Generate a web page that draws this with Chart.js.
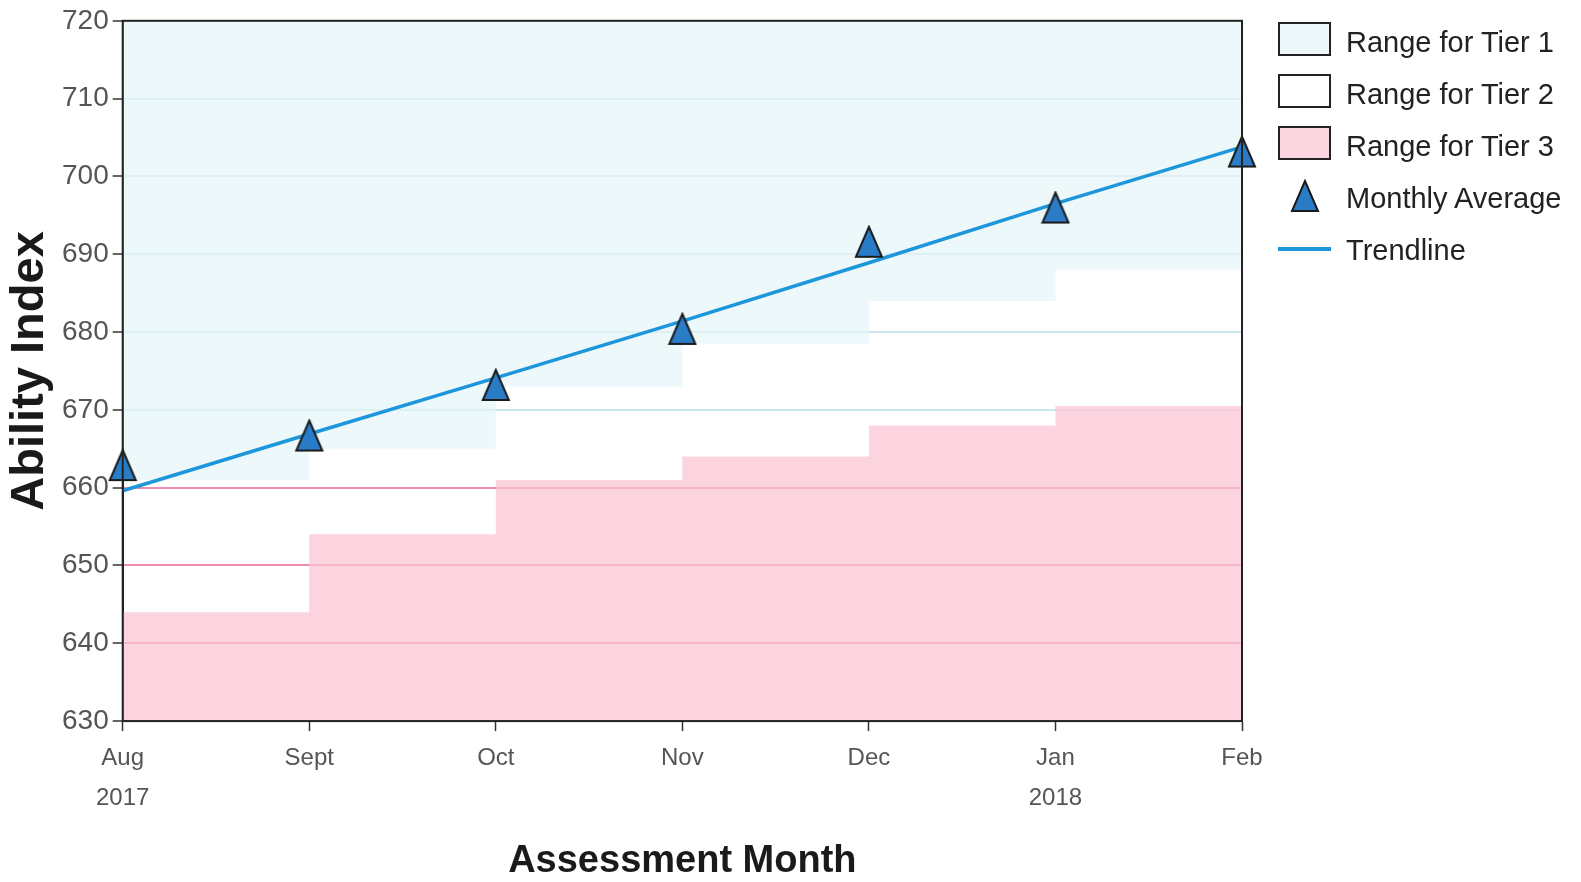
<!DOCTYPE html>
<html>
<head>
<meta charset="utf-8">
<script src="https://cdn.jsdelivr.net/npm/chart.js@4.4.1/dist/chart.umd.min.js"></script>
<style>
  html, body { margin: 0; padding: 0; background: #fff; }
  #wrap { position: relative; width: 1581px; height: 882px; }
  #legend { position: absolute; left: 1278px; top: 20px; font-family: "Liberation Sans", Arial, sans-serif; font-size: 29px; color: #222; }
  .item { position: absolute; left: 0; height: 36px; width: 300px; white-space: nowrap; }
  .item .sw { position: absolute; left: 0; top: 0; width: 53px; height: 34px; border: 2px solid #222; box-sizing: border-box; }
  .item .lbl { position: absolute; left: 68px; top: 0px; line-height: 40px; }
</style>
</head>
<body>
<div id="wrap">
  <canvas id="chart" width="1581" height="882"></canvas>
  <div id="legend">
    <div class="item" style="top:2px"><div class="sw" style="background:#ecf8fa"></div><span class="lbl">Range for Tier 1</span></div>
    <div class="item" style="top:54px"><div class="sw" style="background:#fff"></div><span class="lbl">Range for Tier 2</span></div>
    <div class="item" style="top:106px"><div class="sw" style="background:#fbd6e0"></div><span class="lbl">Range for Tier 3</span></div>
    <div class="item" style="top:158px"><canvas id="legTri" width="30" height="34" style="position:absolute;left:12px;top:1px"></canvas><span class="lbl">Monthly Average</span></div>
    <div class="item" style="top:210px"><div style="position:absolute;left:0;top:17px;width:53px;height:4px;background:#1e96dc"></div><span class="lbl">Trendline</span></div>
  </div>
</div>
<script>
// valeurs
const months = [["Aug", "2017"], "Sept", "Oct", "Nov", "Dec", ["Jan", "2018"], "Feb"];
const monthlyAverage = [662.9, 666.7, 673.2, 680.4, 691.6, 696.0, 703.2];
const trendline = [659.6, 666.9, 674.1, 681.4, 688.9, 696.5, 703.8];
const tier1Lower = [661, 665, 673, 678.5, 684, 688, 688];
const tier3Upper = [644, 654, 661, 664, 668, 670.5, 670.5];

const sans = '"Liberation Sans", Arial, sans-serif';

// triangle un peu plus haut que large, comme l'original
function makeTriangle(c) {
    const g = c.getContext("2d");
    g.beginPath();
    g.moveTo(15, 2);
    g.lineTo(28, 32);
    g.lineTo(2, 32);
    g.closePath();
    g.fillStyle = "#2a7cc7";
    g.fill();
    g.lineWidth = 2;
    g.strokeStyle = "#1a1a1a";
    g.stroke();
    return c;
}
const tri = document.createElement("canvas");
tri.width = 30; tri.height = 34;
makeTriangle(tri);
makeTriangle(document.getElementById("legTri"));

const frame = {
    id: "frame",
    afterDatasetsDraw(chart) {
        const a = chart.chartArea;
        const ctx = chart.ctx;
        ctx.save();
        ctx.strokeStyle = "#222";
        ctx.lineWidth = 2;
        ctx.strokeRect(a.left, a.top, a.right - a.left, a.bottom - a.top);
        ctx.restore();
    }
};

function gridColor(ctx) {
    const v = ctx.tick.value;
    if (v <= 630 || v >= 720) return "rgba(0,0,0,0)";
    if (v <= 660) return "#ec8fab";
    return "#cbe7ec";
}

new Chart(document.getElementById("chart"), {
    type: "line",
    data: {
        labels: months,
        datasets: [
            {
                label: "Monthly Average",
                data: monthlyAverage,
                showLine: false,
                pointStyle: tri,
                pointRadius: 15,
            },
            {
                label: "Trendline",
                data: trendline,
                borderColor: "#1e96dc",
                borderWidth: 3.5,
                pointRadius: 0,
                fill: false,
            },
            {
                label: "Range for Tier 1",
                data: tier1Lower,
                stepped: true,
                borderWidth: 0,
                borderColor: "rgba(0,0,0,0)",
                backgroundColor: "rgba(228,245,248,0.7)",
                pointRadius: 0,
                fill: "end",
            },
            {
                label: "Range for Tier 3",
                data: tier3Upper,
                stepped: true,
                borderWidth: 0,
                borderColor: "rgba(0,0,0,0)",
                backgroundColor: "rgba(249,196,211,0.72)",
                pointRadius: 0,
                fill: "start",
            },
        ],
    },
    options: {
        responsive: false,
        animation: false,
        layout: { padding: { left: 0, right: 339, top: 20, bottom: -13 } },
        plugins: { legend: { display: false }, tooltip: { enabled: false } },
        scales: {
            x: {
                offset: false,
                grid: { drawOnChartArea: false, drawTicks: true, tickLength: 10, tickColor: "#333", tickWidth: 1.5 },
                border: { color: "#222", width: 2 },
                ticks: {
                    color: "#555",
                    padding: 7,
                    maxRotation: 0,
                    autoSkip: false,
                    font: { family: sans, size: 24, lineHeight: 1.667 },
                },
                title: {
                    display: true,
                    text: "Assessment Month",
                    color: "#1a1a1a",
                    padding: { top: 16, bottom: 14 },
                    font: { family: sans, size: 38, weight: "bold", lineHeight: 1.05 },
                },
            },
            y: {
                min: 630,
                max: 720,
                ticks: {
                    stepSize: 10,
                    color: "#555",
                    padding: 4,
                    font: { family: sans, size: 28 },
                },
                grid: { color: gridColor, lineWidth: 2, drawTicks: true, tickLength: 10, tickColor: "#333", tickWidth: 1.5 },
                border: { color: "#222", width: 2 },
                title: {
                    display: true,
                    text: "Ability Index",
                    color: "#1a1a1a",
                    padding: { top: 7, bottom: 4 },
                    font: { family: sans, size: 47, weight: "bold", lineHeight: 1 },
                },
            },
        },
    },
    plugins: [frame],
});
</script>
</body>
</html>
